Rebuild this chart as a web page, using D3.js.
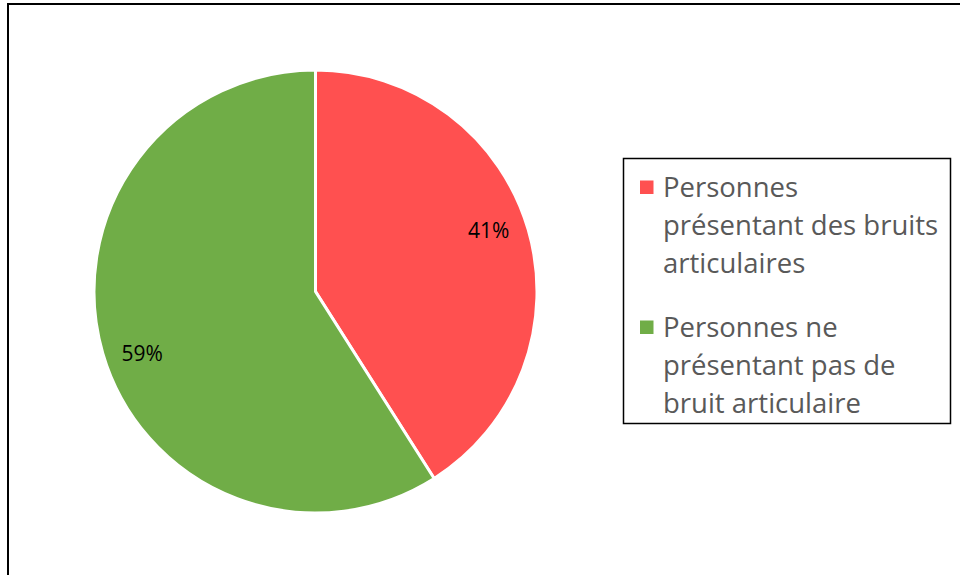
<!DOCTYPE html>
<html>
<head>
<meta charset="utf-8">
<script src="https://cdn.jsdelivr.net/npm/d3@7"></script>
<style>
  body { margin: 0; background: #fff; }
  svg { display: block; font-family: "Open Sans", sans-serif; }
</style>
</head>
<body>
<svg width="960" height="575"></svg>
<script>
var labels = ["Personnes présentant des bruits articulaires", "Personnes ne présentant pas de bruit articulaire"];
var legendLines = [["Personnes", "présentant des bruits", "articulaires"], ["Personnes ne", "présentant pas de", "bruit articulaire"]];
var values = [41, 59];
var colors = ["#ff5050", "#70ad47"];

var svg = d3.select("svg"),
    cx = 315.5, cy = 291.5, radius = 221.5;

// chart frame (runs off the right and bottom edges)
svg.append("rect")
    .attr("x", 8).attr("y", 4)
    .attr("width", 1000).attr("height", 1000)
    .attr("fill", "none")
    .attr("stroke", "#000")
    .attr("stroke-width", 2);

var pie = d3.pie().sort(null).value(function(d) { return d; });
var arc = d3.arc().innerRadius(0).outerRadius(radius);

var g = svg.append("g").attr("transform", "translate(" + cx + "," + cy + ")");
var arcs = pie(values);

g.selectAll("path")
    .data(arcs)
    .enter().append("path")
    .attr("d", arc)
    .attr("fill", function(d, i) { return colors[i]; })
    .attr("stroke", "#fff")
    .attr("stroke-width", 3);

// excel-ish label spot: a bit inside the rim, nudged counter-clockwise
function labelPos(d) {
  var a = (d.startAngle + d.endAngle) / 2 - 0.058,
      r = radius * 0.83;
  return [r * Math.sin(a), -r * Math.cos(a)];
}

g.selectAll("text")
    .data(arcs)
    .enter().append("text")
    .attr("transform", function(d) { return "translate(" + labelPos(d) + ")"; })
    .attr("text-anchor", "middle")
    .attr("dy", "0.36em")
    .style("font-size", "21px")
    .style("fill", "#000")
    .text(function(d) { return d.data + "%"; });

// legend
var legend = svg.append("g");
legend.append("rect")
    .attr("x", 623.5).attr("y", 158.5)
    .attr("width", 327).attr("height", 265)
    .attr("fill", "#fff")
    .attr("stroke", "#000")
    .attr("stroke-width", 1.5);

var item = legend.selectAll("g.item")
    .data(labels)
    .enter().append("g")
    .attr("class", "item")
    .attr("transform", function(d, i) { return "translate(640," + (180.5 + i * 140) + ")"; });

item.append("rect")
    .attr("width", 13.5).attr("height", 13.5)
    .attr("fill", function(d, i) { return colors[i]; });

item.each(function(d, i) {
  var t = d3.select(this).append("text")
      .style("font-size", "27.5px")
      .style("fill", "#595959");
  legendLines[i].forEach(function(line, j) {
    t.append("tspan").attr("x", 23).attr("y", 16.5 + j * 38).text(line);
  });
});
</script>
</body>
</html>
